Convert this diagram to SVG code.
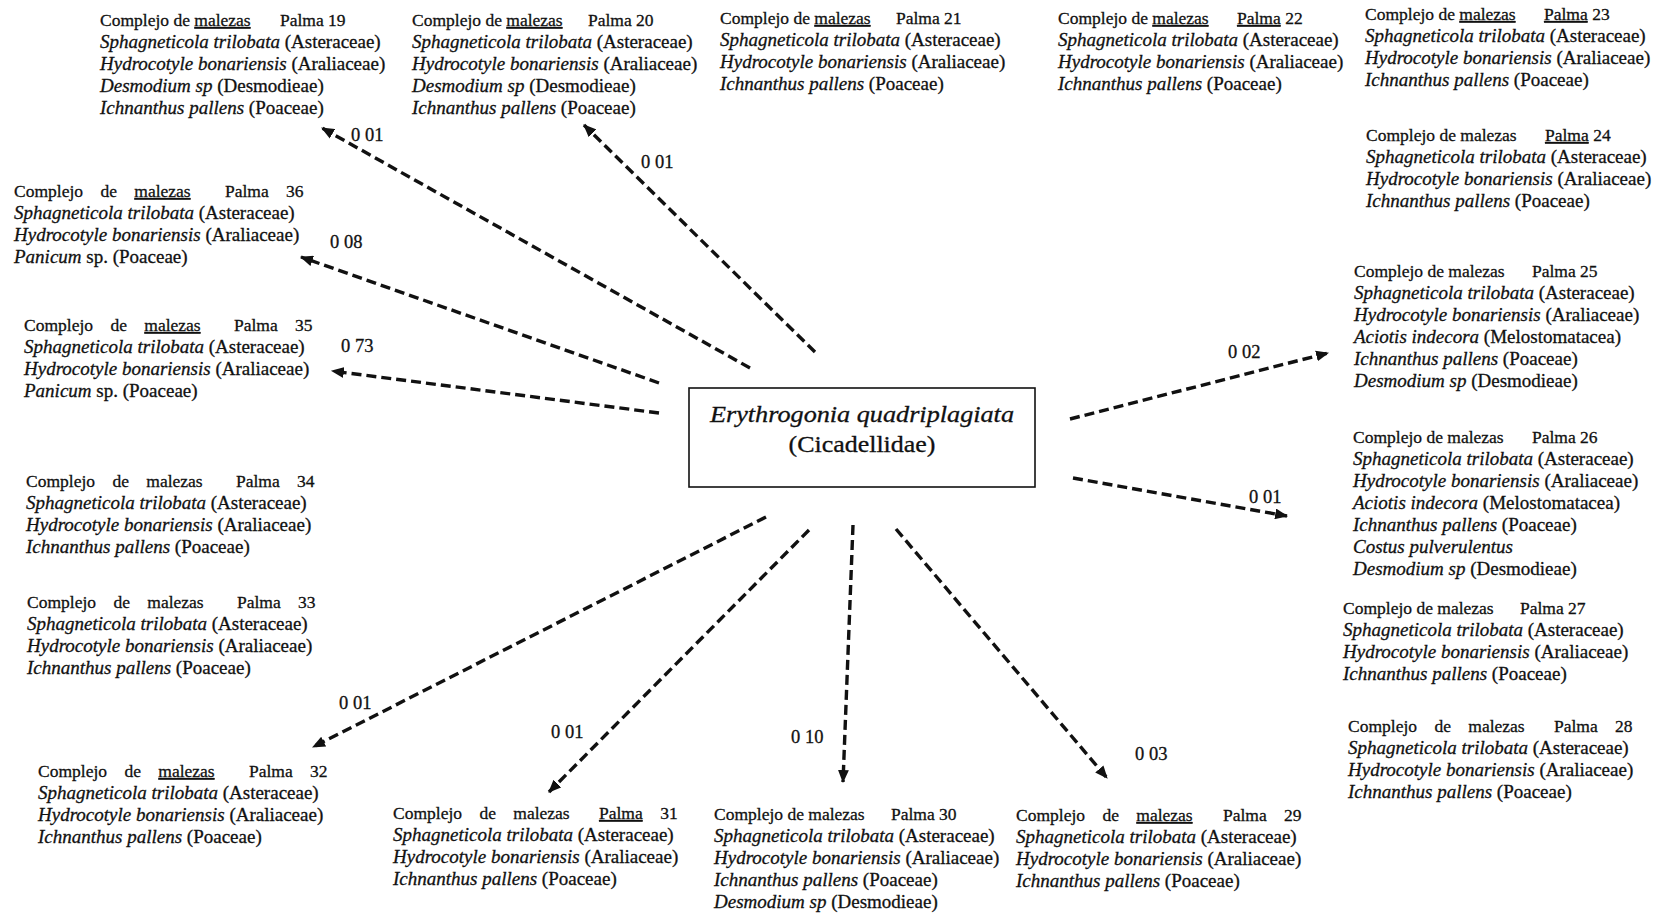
<svg xmlns="http://www.w3.org/2000/svg" width="1667" height="914" viewBox="0 0 1667 914">
<style>
text{font-family:"Liberation Serif","Times New Roman",serif;fill:#111;stroke:#111;stroke-width:0.3}
.h{font-size:17.5px}
.s{font-size:19px}
.i{font-style:italic}
.u{text-decoration:underline}
.w{word-spacing:13px}
.lbl{font-size:18.5px}
.c{fill:none;stroke:#111;stroke-width:3.4;stroke-dasharray:10 5;marker-end:url(#ah)}
</style>
<defs>
<marker id="ah" viewBox="0 0 12 10" refX="11" refY="5" markerWidth="13" markerHeight="11" markerUnits="userSpaceOnUse" orient="auto">
<path d="M0,0 L12,5 L0,10 z" fill="#111"/>
</marker>
</defs>
<rect width="1667" height="914" fill="#fff"/>

<g id="connectors">
<line class="c" x1="750" y1="368" x2="322" y2="128"/>
<line class="c" x1="815" y1="352" x2="584" y2="125"/>
<line class="c" x1="659" y1="383" x2="301" y2="257"/>
<line class="c" x1="659" y1="413" x2="332" y2="371"/>
<line class="c" x1="766" y1="517" x2="313" y2="747"/>
<line class="c" x1="809" y1="530" x2="549" y2="792"/>
<line class="c" x1="853" y1="525" x2="843" y2="782"/>
<line class="c" x1="896" y1="529" x2="1107" y2="778"/>
<line class="c" x1="1073" y1="478" x2="1287" y2="516"/>
<line class="c" x1="1070" y1="419" x2="1328" y2="353"/>
<text class="lbl" x="351" y="141">0 01</text>
<text class="lbl" x="641" y="168">0 01</text>
<text class="lbl" x="330" y="248">0 08</text>
<text class="lbl" x="341" y="352">0 73</text>
<text class="lbl" x="339" y="709">0 01</text>
<text class="lbl" x="551" y="738">0 01</text>
<text class="lbl" x="791" y="743">0 10</text>
<text class="lbl" x="1135" y="760">0 03</text>
<text class="lbl" x="1228" y="358">0 02</text>
<text class="lbl" x="1249" y="503">0 01</text>
</g>

<g id="center">
<rect x="689" y="388" width="346" height="99" fill="#fff" stroke="#111" stroke-width="1.6"/>
<text x="862" y="422" text-anchor="middle" class="i" font-size="23" textLength="304" lengthAdjust="spacingAndGlyphs">Erythrogonia quadriplagiata</text>
<text x="862" y="452" text-anchor="middle" font-size="23" textLength="147" lengthAdjust="spacingAndGlyphs">(Cicadellidae)</text>
</g>

<g id="palma19" transform="translate(100,26)">
<text class="h">Complejo de <tspan class="u">malezas</tspan><tspan x="180">Palma 19</tspan></text>
<text class="s" y="22"><tspan class="i">Sphagneticola trilobata</tspan> (Asteraceae)</text>
<text class="s" y="44"><tspan class="i">Hydrocotyle bonariensis</tspan> (Araliaceae)</text>
<text class="s" y="66"><tspan class="i">Desmodium sp</tspan> (Desmodieae)</text>
<text class="s" y="88"><tspan class="i">Ichnanthus pallens</tspan> (Poaceae)</text>
</g>

<g id="palma20" transform="translate(412,26)">
<text class="h">Complejo de <tspan class="u">malezas</tspan><tspan x="176">Palma 20</tspan></text>
<text class="s" y="22"><tspan class="i">Sphagneticola trilobata</tspan> (Asteraceae)</text>
<text class="s" y="44"><tspan class="i">Hydrocotyle bonariensis</tspan> (Araliaceae)</text>
<text class="s" y="66"><tspan class="i">Desmodium sp</tspan> (Desmodieae)</text>
<text class="s" y="88"><tspan class="i">Ichnanthus pallens</tspan> (Poaceae)</text>
</g>

<g id="palma21" transform="translate(720,24)">
<text class="h">Complejo de <tspan class="u">malezas</tspan><tspan x="176">Palma 21</tspan></text>
<text class="s" y="22"><tspan class="i">Sphagneticola trilobata</tspan> (Asteraceae)</text>
<text class="s" y="44"><tspan class="i">Hydrocotyle bonariensis</tspan> (Araliaceae)</text>
<text class="s" y="66"><tspan class="i">Ichnanthus pallens</tspan> (Poaceae)</text>
</g>

<g id="palma22" transform="translate(1058,24)">
<text class="h">Complejo de <tspan class="u">malezas</tspan><tspan x="179" class="u">Palma</tspan> 22</text>
<text class="s" y="22"><tspan class="i">Sphagneticola trilobata</tspan> (Asteraceae)</text>
<text class="s" y="44"><tspan class="i">Hydrocotyle bonariensis</tspan> (Araliaceae)</text>
<text class="s" y="66"><tspan class="i">Ichnanthus pallens</tspan> (Poaceae)</text>
</g>

<g id="palma23" transform="translate(1365,20)">
<text class="h">Complejo de <tspan class="u">malezas</tspan><tspan x="179" class="u">Palma</tspan> 23</text>
<text class="s" y="22"><tspan class="i">Sphagneticola trilobata</tspan> (Asteraceae)</text>
<text class="s" y="44"><tspan class="i">Hydrocotyle bonariensis</tspan> (Araliaceae)</text>
<text class="s" y="66"><tspan class="i">Ichnanthus pallens</tspan> (Poaceae)</text>
</g>

<g id="palma24" transform="translate(1366,141)">
<text class="h">Complejo de malezas<tspan x="179" class="u">Palma</tspan> 24</text>
<text class="s" y="22"><tspan class="i">Sphagneticola trilobata</tspan> (Asteraceae)</text>
<text class="s" y="44"><tspan class="i">Hydrocotyle bonariensis</tspan> (Araliaceae)</text>
<text class="s" y="66"><tspan class="i">Ichnanthus pallens</tspan> (Poaceae)</text>
</g>

<g id="palma25" transform="translate(1354,277)">
<text class="h">Complejo de malezas<tspan x="178">Palma 25</tspan></text>
<text class="s" y="22"><tspan class="i">Sphagneticola trilobata</tspan> (Asteraceae)</text>
<text class="s" y="44"><tspan class="i">Hydrocotyle bonariensis</tspan> (Araliaceae)</text>
<text class="s" y="66"><tspan class="i">Aciotis indecora</tspan> (Melostomatacea)</text>
<text class="s" y="88"><tspan class="i">Ichnanthus pallens</tspan> (Poaceae)</text>
<text class="s" y="110"><tspan class="i">Desmodium sp</tspan> (Desmodieae)</text>
</g>

<g id="palma26" transform="translate(1353,443)">
<text class="h">Complejo de malezas<tspan x="179">Palma 26</tspan></text>
<text class="s" y="22"><tspan class="i">Sphagneticola trilobata</tspan> (Asteraceae)</text>
<text class="s" y="44"><tspan class="i">Hydrocotyle bonariensis</tspan> (Araliaceae)</text>
<text class="s" y="66"><tspan class="i">Aciotis indecora</tspan> (Melostomatacea)</text>
<text class="s" y="88"><tspan class="i">Ichnanthus pallens</tspan> (Poaceae)</text>
<text class="s i" y="110">Costus pulverulentus</text>
<text class="s" y="132"><tspan class="i">Desmodium sp</tspan> (Desmodieae)</text>
</g>

<g id="palma27" transform="translate(1343,614)">
<text class="h">Complejo de malezas<tspan x="177">Palma 27</tspan></text>
<text class="s" y="22"><tspan class="i">Sphagneticola trilobata</tspan> (Asteraceae)</text>
<text class="s" y="44"><tspan class="i">Hydrocotyle bonariensis</tspan> (Araliaceae)</text>
<text class="s" y="66"><tspan class="i">Ichnanthus pallens</tspan> (Poaceae)</text>
</g>

<g id="palma28" transform="translate(1348,732)">
<text class="h w">Complejo de malezas<tspan x="206">Palma 28</tspan></text>
<text class="s" y="22"><tspan class="i">Sphagneticola trilobata</tspan> (Asteraceae)</text>
<text class="s" y="44"><tspan class="i">Hydrocotyle bonariensis</tspan> (Araliaceae)</text>
<text class="s" y="66"><tspan class="i">Ichnanthus pallens</tspan> (Poaceae)</text>
</g>

<g id="palma29" transform="translate(1016,821)">
<text class="h w">Complejo de <tspan class="u">malezas</tspan><tspan x="207">Palma 29</tspan></text>
<text class="s" y="22"><tspan class="i">Sphagneticola trilobata</tspan> (Asteraceae)</text>
<text class="s" y="44"><tspan class="i">Hydrocotyle bonariensis</tspan> (Araliaceae)</text>
<text class="s" y="66"><tspan class="i">Ichnanthus pallens</tspan> (Poaceae)</text>
</g>

<g id="palma30" transform="translate(714,820)">
<text class="h">Complejo de malezas<tspan x="177">Palma 30</tspan></text>
<text class="s" y="22"><tspan class="i">Sphagneticola trilobata</tspan> (Asteraceae)</text>
<text class="s" y="44"><tspan class="i">Hydrocotyle bonariensis</tspan> (Araliaceae)</text>
<text class="s" y="66"><tspan class="i">Ichnanthus pallens</tspan> (Poaceae)</text>
<text class="s" y="88"><tspan class="i">Desmodium sp</tspan> (Desmodieae)</text>
</g>

<g id="palma31" transform="translate(393,819)">
<text class="h w">Complejo de malezas<tspan x="206"><tspan class="u">Palma</tspan> 31</tspan></text>
<text class="s" y="22"><tspan class="i">Sphagneticola trilobata</tspan> (Asteraceae)</text>
<text class="s" y="44"><tspan class="i">Hydrocotyle bonariensis</tspan> (Araliaceae)</text>
<text class="s" y="66"><tspan class="i">Ichnanthus pallens</tspan> (Poaceae)</text>
</g>

<g id="palma32" transform="translate(38,777)">
<text class="h w">Complejo de <tspan class="u">malezas</tspan><tspan x="211">Palma 32</tspan></text>
<text class="s" y="22"><tspan class="i">Sphagneticola trilobata</tspan> (Asteraceae)</text>
<text class="s" y="44"><tspan class="i">Hydrocotyle bonariensis</tspan> (Araliaceae)</text>
<text class="s" y="66"><tspan class="i">Ichnanthus pallens</tspan> (Poaceae)</text>
</g>

<g id="palma33" transform="translate(27,608)">
<text class="h w">Complejo de malezas<tspan x="210">Palma 33</tspan></text>
<text class="s" y="22"><tspan class="i">Sphagneticola trilobata</tspan> (Asteraceae)</text>
<text class="s" y="44"><tspan class="i">Hydrocotyle bonariensis</tspan> (Araliaceae)</text>
<text class="s" y="66"><tspan class="i">Ichnanthus pallens</tspan> (Poaceae)</text>
</g>

<g id="palma34" transform="translate(26,487)">
<text class="h w">Complejo de malezas<tspan x="210">Palma 34</tspan></text>
<text class="s" y="22"><tspan class="i">Sphagneticola trilobata</tspan> (Asteraceae)</text>
<text class="s" y="44"><tspan class="i">Hydrocotyle bonariensis</tspan> (Araliaceae)</text>
<text class="s" y="66"><tspan class="i">Ichnanthus pallens</tspan> (Poaceae)</text>
</g>

<g id="palma35" transform="translate(24,331)">
<text class="h w">Complejo de <tspan class="u">malezas</tspan><tspan x="210">Palma 35</tspan></text>
<text class="s" y="22"><tspan class="i">Sphagneticola trilobata</tspan> (Asteraceae)</text>
<text class="s" y="44"><tspan class="i">Hydrocotyle bonariensis</tspan> (Araliaceae)</text>
<text class="s" y="66"><tspan class="i">Panicum</tspan> sp. (Poaceae)</text>
</g>

<g id="palma36" transform="translate(14,197)">
<text class="h w">Complejo de <tspan class="u">malezas</tspan><tspan x="211">Palma 36</tspan></text>
<text class="s" y="22"><tspan class="i">Sphagneticola trilobata</tspan> (Asteraceae)</text>
<text class="s" y="44"><tspan class="i">Hydrocotyle bonariensis</tspan> (Araliaceae)</text>
<text class="s" y="66"><tspan class="i">Panicum</tspan> sp. (Poaceae)</text>
</g>
</svg>
